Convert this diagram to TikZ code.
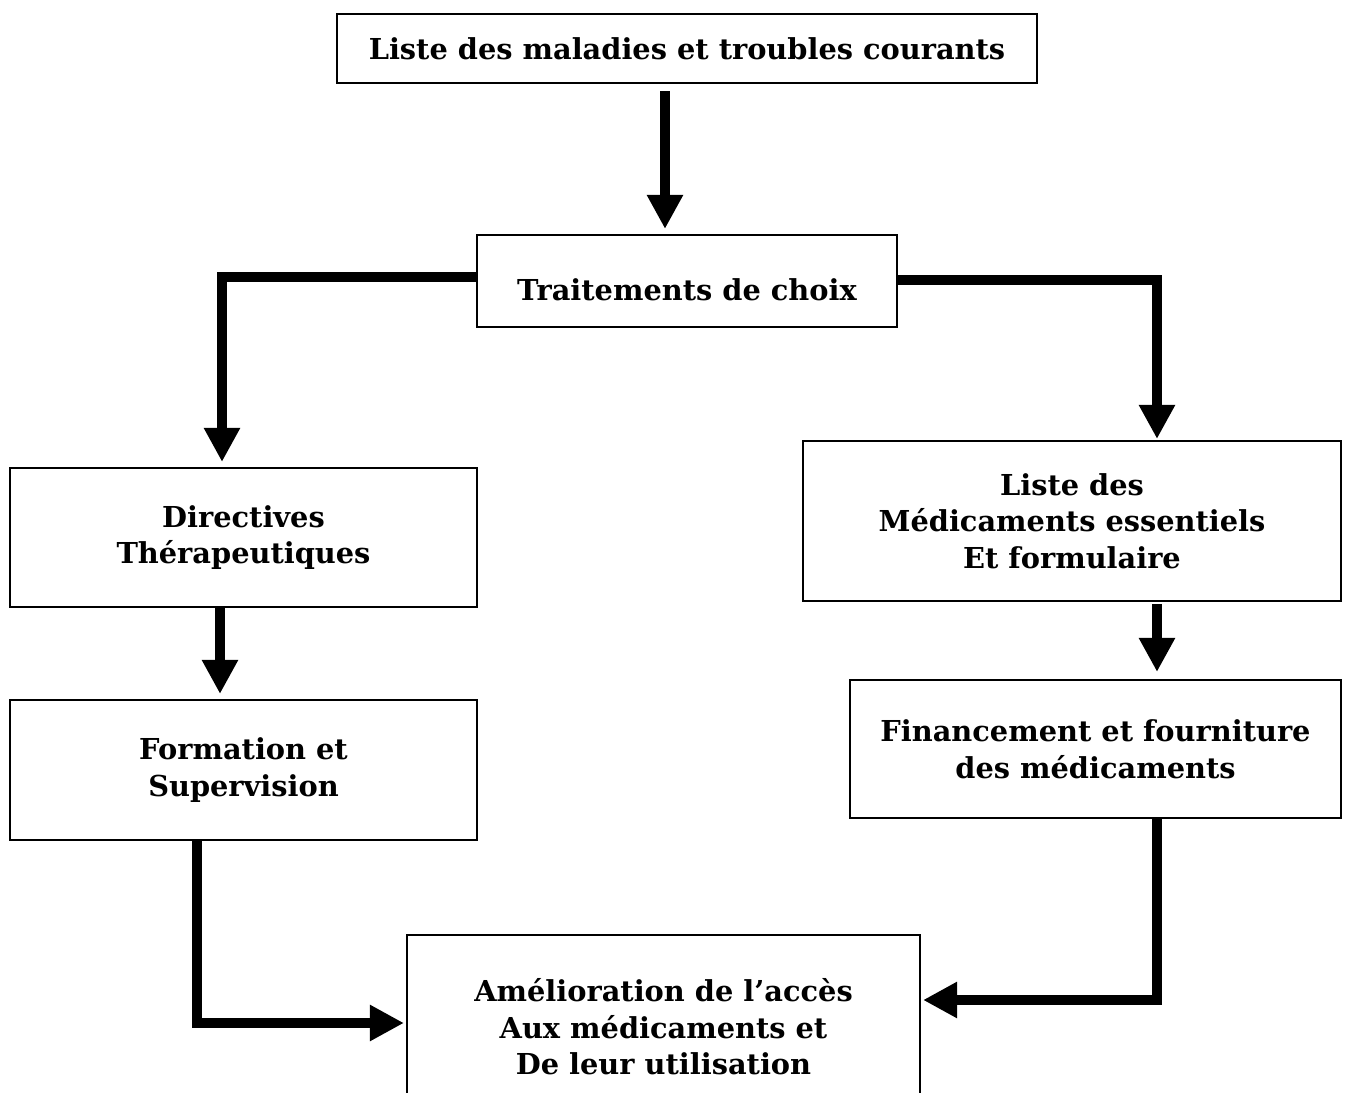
\documentclass[tikz,border=0pt]{standalone}
\usepackage{fontspec}
\setmainfont{DejaVu Serif}
\usepackage{tikz}
\usetikzlibrary{
	positioning,       %定位
	arrows.meta        %箭头
}
\tikzset{
	every picture/.style={
		>=latex,
		node distance=5mm and 5mm
	},
	boite/.style={rectangle,
		draw=black,
		line width=1.2pt,
		align=center,
		inner sep=0pt,
		font=\bfseries\fontsize{16.4}{20.8}\selectfont},
	fleche/.style={line width=6.2pt,
		-{Triangle[length=0.68cm,width=0.68cm]}}
}

\begin{document}
\begin{tikzpicture}
\useasboundingbox (0,0) rectangle (26.98,-21.86);
% les boites
\node[boite,minimum width=14cm,minimum height=1.38cm] (liste) at (13.74,-0.97) {Liste des maladies et troubles courants};
\node[boite,minimum width=8.4cm,minimum height=1.84cm,text height=0.8cm] (traite) at (13.74,-5.62) {Traitements de choix};
\node[boite,minimum width=9.34cm,minimum height=2.78cm] (direct) at (4.87,-10.75) {Directives\\Thérapeutiques};
\node[boite,minimum width=10.76cm,minimum height=3.2cm] (meds) at (21.44,-10.42) {Liste des\\Médicaments essentiels\\Et formulaire};
\node[boite,minimum width=9.34cm,minimum height=2.8cm] (form) at (4.87,-15.4) {Formation et\\Supervision};
\node[boite,minimum width=9.82cm,minimum height=2.76cm] (finan) at (21.91,-14.98) {Financement et fourniture\\des médicaments};
\node[boite,minimum width=10.26cm,minimum height=3.68cm] (amel) at (13.27,-20.54) {Amélioration de l’accès\\Aux médicaments et\\De leur utilisation};
% les fleches
\draw[fleche] ([xshift=-0.44cm,yshift=-0.14cm]liste.south) -- ([xshift=-0.44cm,yshift=0.1cm]traite.north);
\draw[fleche] ([yshift=0.08cm]traite.west) -| ([xshift=-0.43cm,yshift=0.1cm]direct.north);
\draw[fleche] ([yshift=0.02cm]traite.east) -| ([xshift=1.7cm,yshift=0.02cm]meds.north);
\draw[fleche] ([xshift=-0.47cm]direct.south) -- ([xshift=-0.47cm,yshift=0.1cm]form.north);
\draw[fleche] ([xshift=1.7cm,yshift=-0.04cm]meds.south) -- ([xshift=1.23cm,yshift=0.14cm]finan.north);
\draw[fleche] ([xshift=-0.93cm]form.south) |- ([xshift=-0.04cm,yshift=0.08cm]amel.west);
\draw[fleche] ([xshift=1.23cm]finan.south) |- ([xshift=0.04cm,yshift=0.54cm]amel.east);
\end{tikzpicture}
\end{document}
